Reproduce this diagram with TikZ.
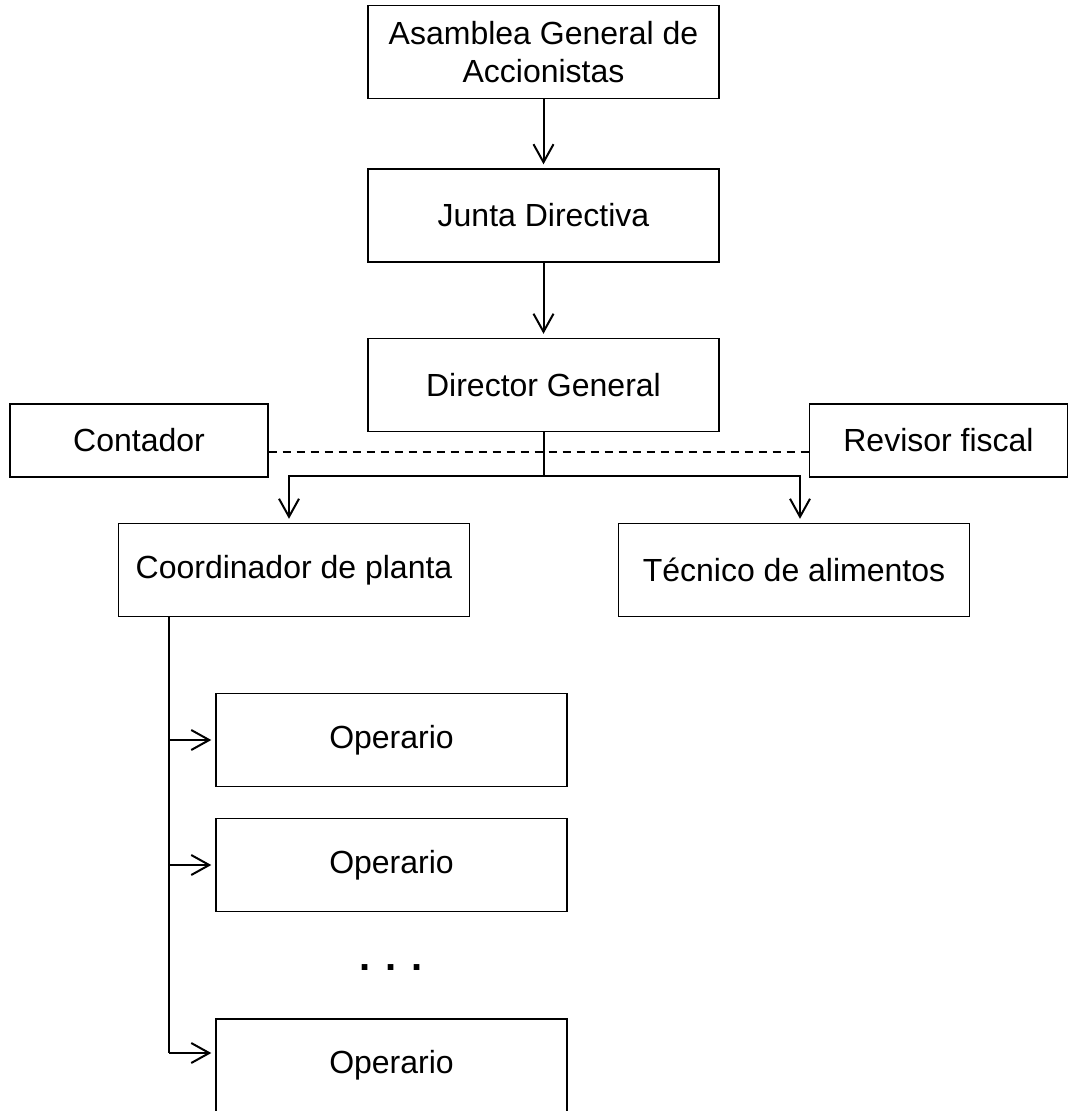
\documentclass[tikz,border=0pt]{standalone}
\usepackage{fontspec}
\setmainfont{Liberation Sans}
\usetikzlibrary{arrows.meta,positioning}
\tikzset{
  box/.style={draw, rectangle, line width=0.7pt, minimum width=175.5pt, minimum height=46.5pt, align=center, font=\fontsize{16}{19}\selectfont, inner sep=0pt},
  side/.style={box, minimum width=129pt, minimum height=36.5pt},
  arr/.style={-{Straight Barb[length=9pt, width=10pt]}, line width=1pt, shorten >=2pt},
  link/.style={line width=1pt},
  dline/.style={line width=1pt, dash pattern=on 4pt off 3pt}
}

\begin{document}
\begin{tikzpicture}[x=0.5pt, y=-0.5pt]
\useasboundingbox (0,0) rectangle (1069,1111);
\node[box] (asam) at (543.5,52) {Asamblea General de\\Accionistas};
\node[box] (junta) at (543.5,215.5) {Junta Directiva};
\node[box] (dir) at (543.5,385) {Director General};
\node[side] (cont) at (139,440.5) {Contador};
\node[side] (rev) at (938.5,440.5) {Revisor fiscal};
\node[box] (coord) at (294,570) {Coordinador de planta};
\node[box] (tec) at (794,570) {Técnico de alimentos};
\node[box] (op1) at (391.5,740) {Operario};
\node[box] (op2) at (391.5,865) {Operario};
\node[font=\fontsize{20}{24}\selectfont\bfseries, inner sep=0pt] (dots) at (391,968) {. . .};
\node[box] (op3) at (391.5,1065.5) {Operario};
\draw[arr] (asam) -- (junta);
\draw[arr] (junta) -- (dir);
\draw[dline] ([yshift=-6pt]cont.east) -- ([yshift=-6pt]rev.west);
\coordinate (fork) at (543.5,476);
\draw[link] (dir) -- (fork);
\draw[arr] (fork) -| ([xshift=-2.5pt]coord.north);
\draw[arr] (fork) -| ([xshift=3pt]tec.north);
\coordinate (trunk) at (169,1053);
\draw[link] (coord.south -| trunk) -- (trunk);
\foreach \o in {op1,op2} \draw[arr] (trunk |- \o.west) -- (\o.west);
\draw[arr] (trunk) -- (trunk -| op3.west);
\end{tikzpicture}
\end{document}
